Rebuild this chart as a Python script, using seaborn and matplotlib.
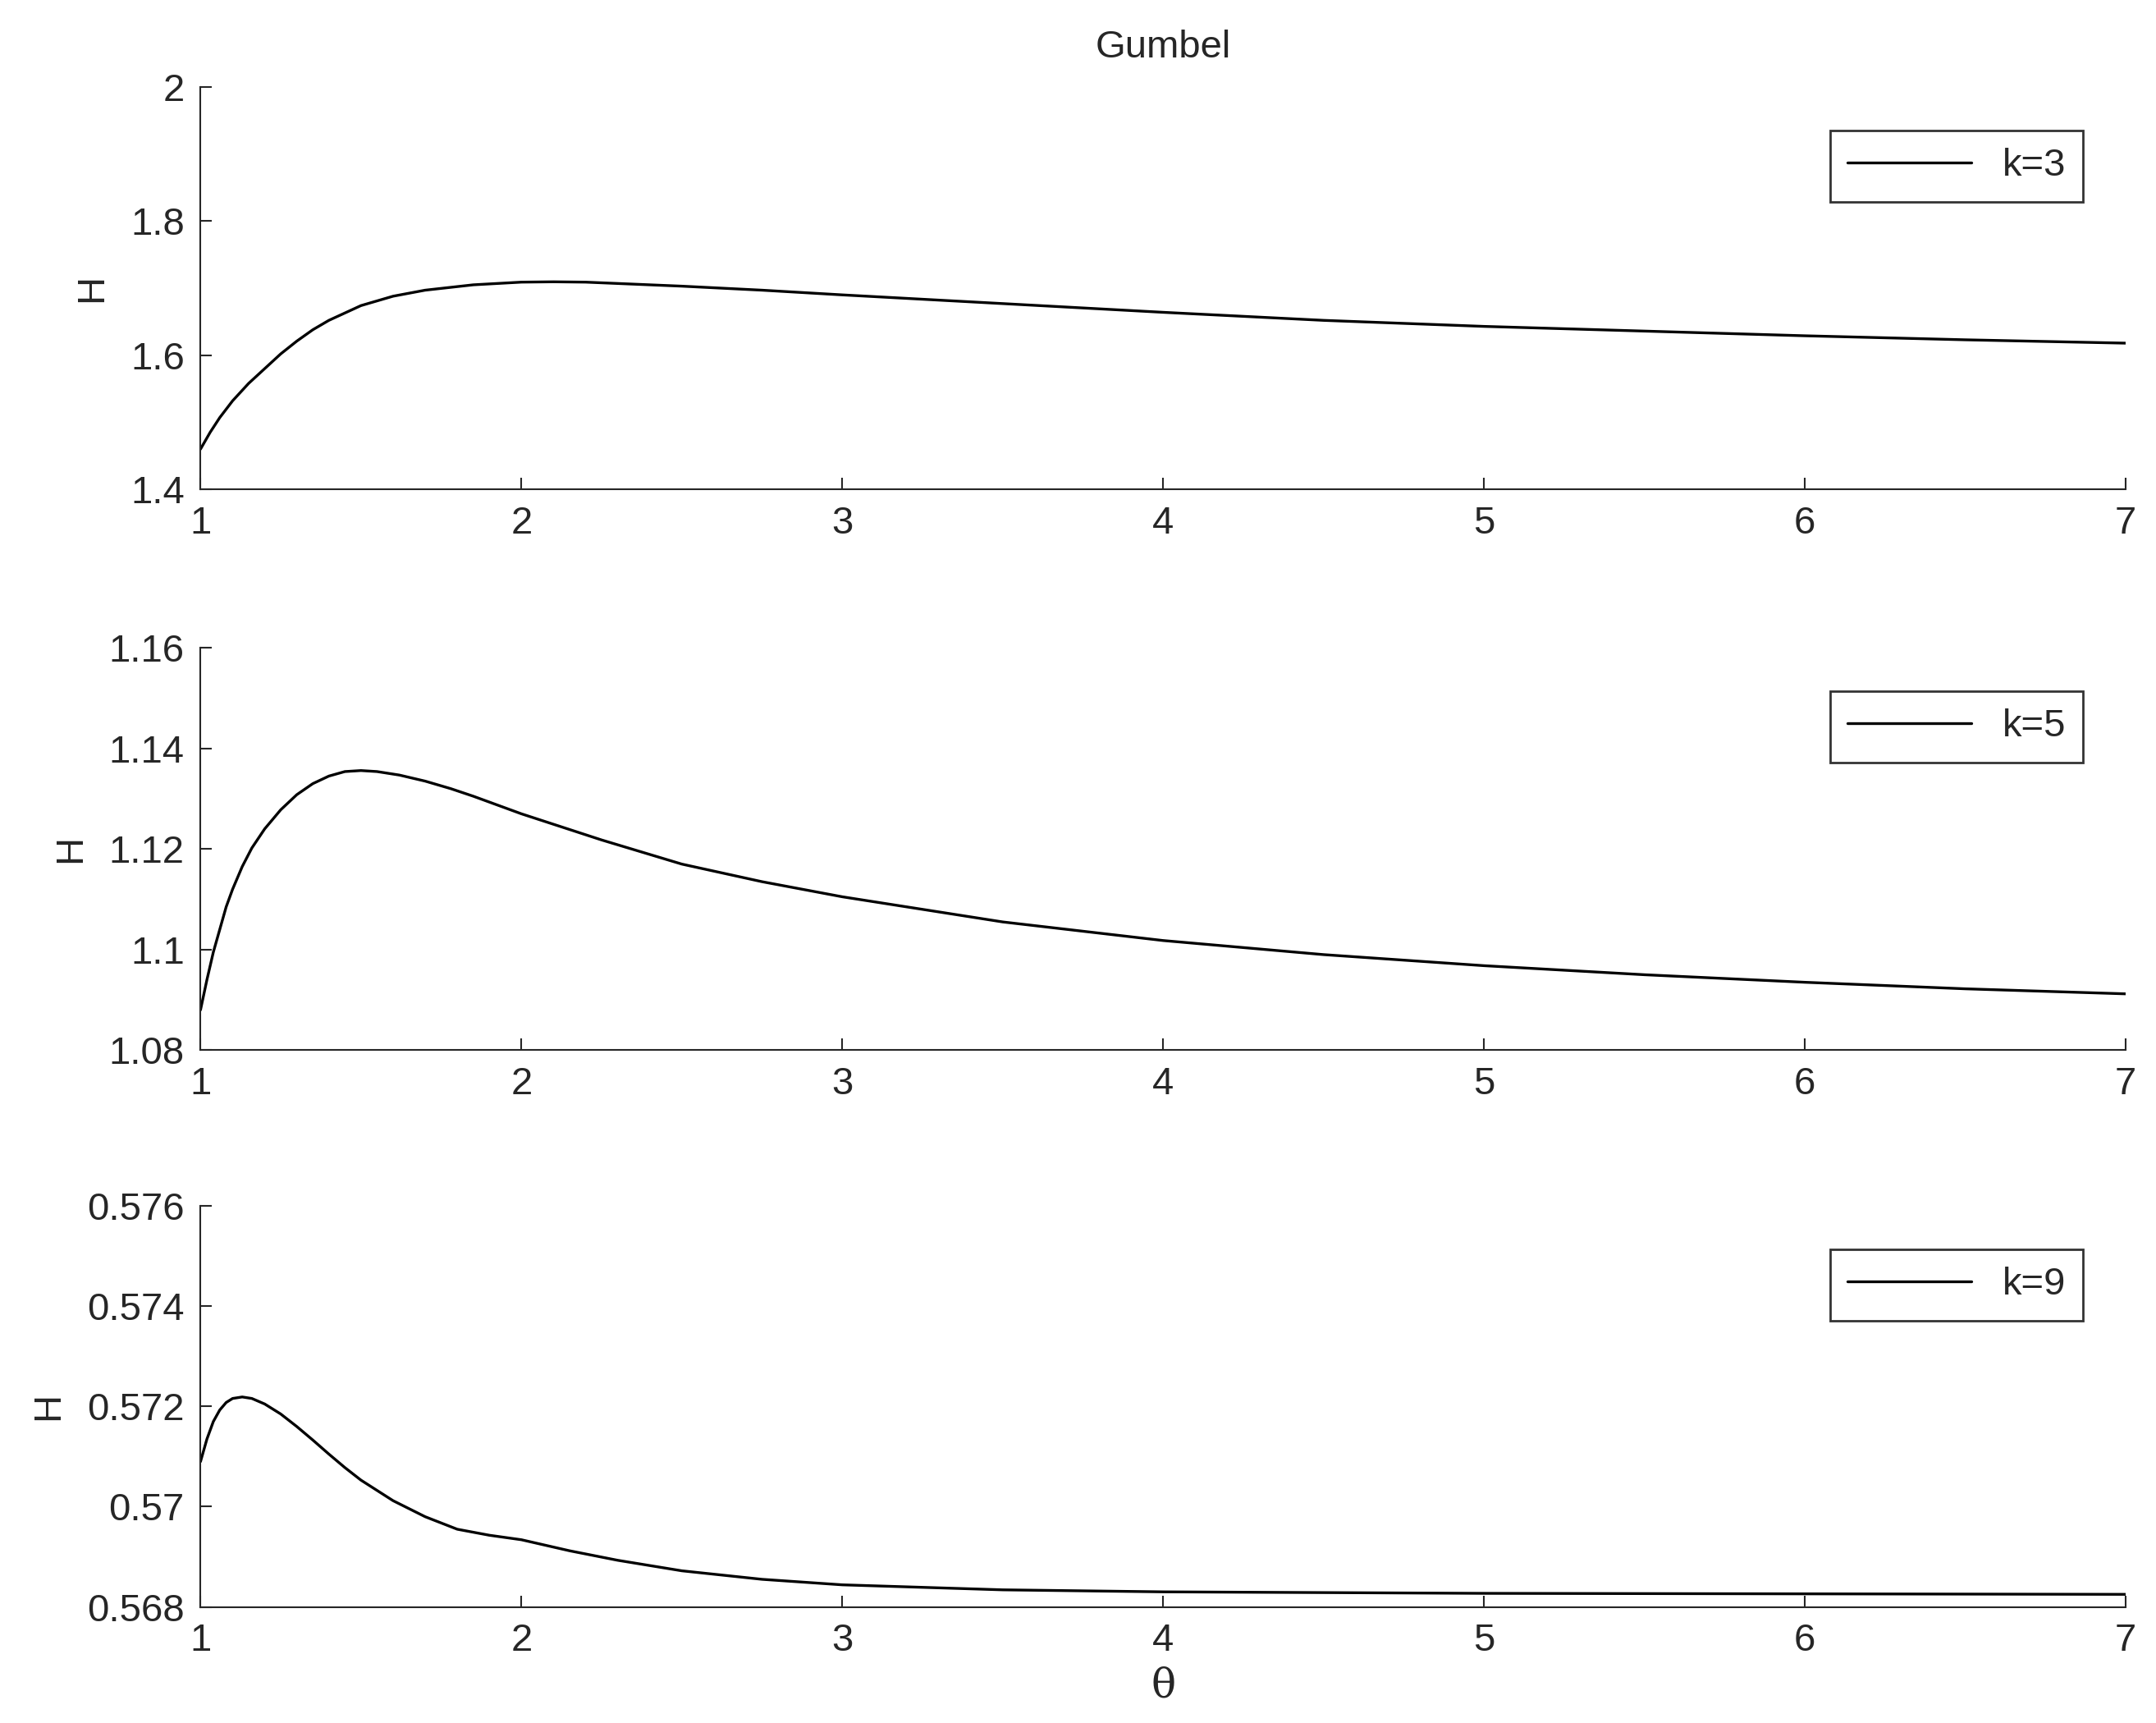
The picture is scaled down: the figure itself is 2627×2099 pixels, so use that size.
import numpy as np
import pandas as pd
import matplotlib
matplotlib.use("Agg")
import matplotlib.pyplot as plt
import seaborn as sns

# values
theta3 = [1.0, 1.03, 1.06, 1.1, 1.15, 1.2, 1.25, 1.3, 1.35, 1.4, 1.5, 1.6, 1.7, 1.85, 2.0, 2.1, 2.2, 2.35, 2.5, 2.75, 3.0, 3.5, 4.0, 4.5, 5.0, 5.5, 6.0, 6.5, 7.0]
h3 = [1.46, 1.485, 1.507, 1.532, 1.558, 1.58, 1.602, 1.621, 1.638, 1.652, 1.674, 1.688, 1.697, 1.705, 1.709, 1.7095, 1.709, 1.706, 1.703, 1.697, 1.690, 1.677, 1.664, 1.652, 1.643, 1.636, 1.629, 1.623, 1.618]

theta5 = [1.0, 1.02, 1.04, 1.06, 1.08, 1.1, 1.13, 1.16, 1.2, 1.25, 1.3, 1.35, 1.4, 1.45, 1.5, 1.55, 1.62, 1.7, 1.78, 1.85, 2.0, 2.25, 2.5, 2.75, 3.0, 3.5, 4.0, 4.5, 5.0, 5.5, 6.0, 6.5, 7.0]
h5 = [1.088, 1.094, 1.0995, 1.104, 1.1085, 1.112, 1.1165, 1.1202, 1.124, 1.1278, 1.1308, 1.133, 1.1345, 1.1354, 1.1356, 1.1354, 1.1347, 1.1335, 1.132, 1.1305, 1.127, 1.1218, 1.117, 1.1135, 1.1105, 1.1055, 1.1018, 1.099, 1.0968, 1.095, 1.0935, 1.0922, 1.0912]

theta9 = [1.0, 1.02, 1.04, 1.06, 1.08, 1.1, 1.13, 1.16, 1.2, 1.25, 1.3, 1.35, 1.4, 1.45, 1.5, 1.6, 1.7, 1.8, 1.9, 2.0, 2.15, 2.3, 2.5, 2.75, 3.0, 3.5, 4.0, 5.0, 6.0, 7.0]
h9 = [0.5709, 0.57135, 0.5717, 0.57193, 0.57208, 0.57216, 0.57219, 0.57216, 0.57205, 0.57185, 0.5716, 0.57133, 0.57105, 0.57078, 0.57053, 0.57012, 0.5698, 0.56955, 0.56943, 0.56934, 0.56912, 0.56893, 0.56872, 0.56855, 0.56844, 0.56834, 0.5683, 0.56827, 0.56826, 0.56825]

series = [(theta3, h3, "k=3", (1.4, 2.0), [1.4, 1.6, 1.8, 2.0]),
          (theta5, h5, "k=5", (1.08, 1.16), [1.08, 1.1, 1.12, 1.14, 1.16]),
          (theta9, h9, "k=9", (0.568, 0.576), [0.568, 0.57, 0.572, 0.574, 0.576])]

sns.set_style("ticks")
plt.rcParams['font.family'] = ['Liberation Sans', 'DejaVu Sans']
plt.rcParams['xtick.direction'] = 'in'
plt.rcParams['ytick.direction'] = 'in'

fig = plt.figure(figsize=(26.27, 20.99), dpi=100)
rows = [(0.716, 0.9495), (0.3905, 0.624), (0.0674, 0.300)]
for (th, h, lab, ylim, yt), (b, t) in zip(series, rows):
    ax = fig.add_axes([0.093, b, 0.893, t - b])
    df = pd.DataFrame({"theta": th, "H": h})
    sns.lineplot(data=df, x="theta", y="H", color="black", lw=2.4, label=lab, ax=ax)
    ax.set_xlim(1, 7)
    ax.set_ylim(*ylim)
    ax.set_yticks(yt)
    ax.set_yticklabels(["{:g}".format(v) for v in yt])
    ax.set_xticks(range(1, 8))
    ax.tick_params(labelsize=34, length=10, width=1.5, pad=14)
    for s in ["top", "right"]:
        ax.spines[s].set_visible(False)
    for s in ["left", "bottom"]:
        ax.spines[s].set_linewidth(1.5)
    ax.set_xlabel("")
    ax.set_ylabel("H", fontsize=34, labelpad=18)
    leg = ax.legend(loc="upper right", fontsize=34, frameon=True, fancybox=False,
                    handlelength=3.2, borderpad=0.45, bbox_to_anchor=(0.988, 0.94))
    leg.get_frame().set_edgecolor("black")
    leg.get_frame().set_linewidth(2)
    if lab == "k=3":
        ax.set_title("Gumbel", fontsize=34, pad=26)
    if lab == "k=9":
        ax.set_xlabel("θ", fontsize=36, family=['DejaVu Serif'], labelpad=6)

fig.savefig("out.png", dpi=100)
